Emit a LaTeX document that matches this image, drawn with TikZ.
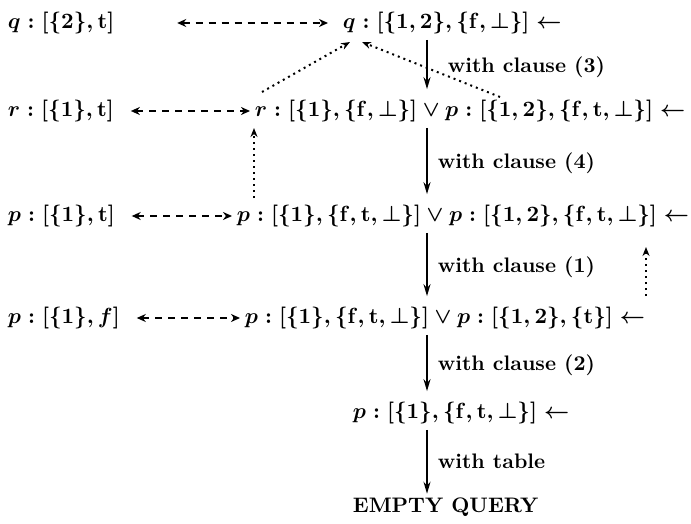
\documentclass[tikz,border=0pt]{standalone}
\usetikzlibrary{arrows.meta, positioning, calc}
\newcommand{\tv}{\mathbf{t}}
\newcommand{\fv}{\mathbf{f}}
\tikzset{
  every picture/.style={line width=0.9pt, x=0.5pt, y=-0.5pt},
  goal/.style={anchor=west, inner sep=0pt, font=\fontsize{10.5}{12}\selectfont\bfseries\boldmath},
  derive/.style={-{Stealth[length=6pt, width=3.5pt]}, line width=0.9pt, shorten <=2.5pt, shorten >=5pt},
  why/.style={anchor=west, inner sep=0pt, xshift=#1, font=\fontsize{10.5}{12}\selectfont\bfseries},
  why/.default=5pt,
  pair/.style={{Stealth[length=4.5pt, width=4pt]}-{Stealth[length=4.5pt, width=4pt]}, dash pattern=on 3.5pt off 3pt, line width=0.8pt},
  hint/.style={-{Stealth[length=4.5pt, width=3.5pt]}, dotted, line width=1pt},
}
\begin{document}
\begin{tikzpicture}
  \useasboundingbox (0,0) rectangle (691,524);
  % left column
  \node[goal] (l1) at (7,23) {$q:[\{2\},\tv]$};
  \node[goal] (l2) at (7,111) {$r:[\{1\},\tv]$};
  \node[goal] (l3) at (7,216) {$p:[\{1\},\tv]$};
  \node[goal] (l4) at (7,318) {$p:[\{1\},f]$};
  % derivation
  \node[goal] (m1) at (342,23) {$q:[\{1,2\},\{\fv,\bot\}]\leftarrow$};
  \node[goal] (m2) at (254,111) {$r:[\{1\},\{\fv,\bot\}]\vee p:[\{1,2\},\{\fv,\tv,\bot\}]\leftarrow$};
  \node[goal] (m3) at (236,216) {$p:[\{1\},\{\fv,\tv,\bot\}]\vee p:[\{1,2\},\{\fv,\tv,\bot\}]\leftarrow$};
  \node[goal] (m4) at (244,318) {$p:[\{1\},\{\fv,\tv,\bot\}]\vee p:[\{1,2\},\{\tv\}]\leftarrow$};
  \node[goal] (m5) at (352,413) {$p:[\{1\},\{\fv,\tv,\bot\}]\leftarrow$};
  \node[goal, font=\fontsize{10.5}{12}\selectfont\bfseries] (m6) at (352,507) {EMPTY QUERY};
  \coordinate (ax) at (427,0);
  \draw[derive] (m1.south -| ax) -- (m2.north -| ax) node[why=10pt, midway] {with clause (3)};
  \draw[derive] (m2.south -| ax) -- (m3.north -| ax) node[why, midway] {with clause (4)};
  \draw[derive] (m3.south -| ax) -- (m4.north -| ax) node[why, midway] {with clause (1)};
  \draw[derive] (m4.south -| ax) -- (m5.north -| ax) node[why, midway] {with clause (2)};
  \draw[derive, shorten >=1.5pt] (m5.south -| ax) -- (m6.north -| ax) node[why, midway] {with table};
  % dashed links
  \draw[pair, shorten <=31pt, shorten >=7pt] (l1) -- (m1);
  \draw[pair, shorten <=8pt, shorten >=2pt] (l2) -- (m2);
  \draw[pair, shorten <=8pt, shorten >=2pt] (l3) -- (m3);
  \draw[pair, shorten <=8pt, shorten >=2pt] (l4) -- (m4);
  % dotted hints
  \coordinate (h1) at (262,92);
  \coordinate (h2) at (500,97);
  \coordinate (h3) at (254,198);
  \coordinate (h4) at (646,296);
  \coordinate (q1) at (350,42);
  \coordinate (q2) at (362,42);
  \coordinate (v3) at (254,128);
  \coordinate (v4) at (646,247);
  \draw[hint] (h1) -- (q1);
  \draw[hint] (h2) -- (q2);
  \draw[hint] (h3) -- (v3);
  \draw[hint] (h4) -- (v4);
\end{tikzpicture}
\end{document}
